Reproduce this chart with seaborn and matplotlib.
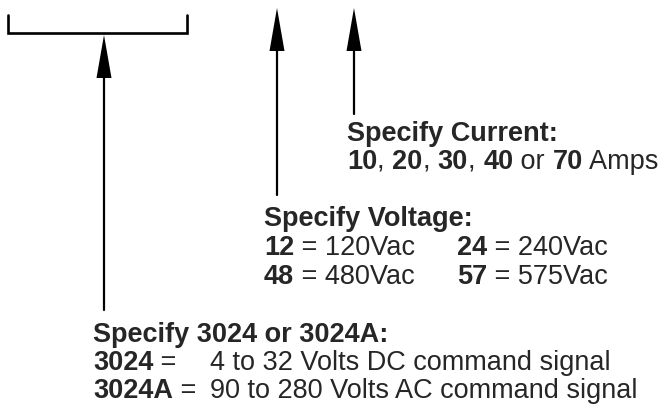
import matplotlib
matplotlib.use("Agg")
import matplotlib.pyplot as plt
import seaborn as sns

# ---- diagram content ----
current_lines = [
    [("Specify Current:", "bold")],
    [("10", "bold"), (", ", "normal"), ("20", "bold"), (", ", "normal"),
     ("30", "bold"), (", ", "normal"), ("40", "bold"), (" or ", "normal"),
     ("70", "bold"), (" Amps", "normal")],
]
voltage_title = "Specify Voltage:"
voltage_codes = ["12", "24", "48", "57"]
voltage_values = ["120Vac", "240Vac", "480Vac", "575Vac"]
model_title = "Specify 3024 or 3024A:"
model_codes = ["3024", "3024A"]
model_desc = ["4 to 32 Volts DC command signal", "90 to 280 Volts AC command signal"]

# arrow x, tip y, shaft bottom y (pixel space of the 672x409 drawing)
arrow_x = [104, 277, 354]
arrow_tip = [35, 8, 8]
arrow_base = [310, 195, 114]
bracket_x = [8, 187]
bracket_y = [15, 33]

FS = 19.5
FONT = "Liberation Sans"

sns.set_theme(style="white")
plt.rcParams["font.family"] = [FONT, "DejaVu Sans"]

fig = plt.figure(figsize=(6.72, 4.09), dpi=100)
ax = fig.add_axes([0, 0, 1, 1])
ax.set_xlim(0, 672)
ax.set_ylim(409, 0)
ax.axis("off")

fig.canvas.draw()
renderer = fig.canvas.get_renderer()


def runs(x, y, parts):
    # draw a row of mixed bold/normal text pieces one after another
    for txt, weight in parts:
        t = ax.text(x, y, txt, fontsize=FS, fontweight=weight, va="baseline", ha="left")
        bb = t.get_window_extent(renderer=renderer)
        x0, _ = ax.transData.inverted().transform((bb.x0, bb.y0))
        x1, _ = ax.transData.inverted().transform((bb.x1, bb.y0))
        x += x1 - x0
    return x


# bracket
ax.plot([bracket_x[0], bracket_x[0], bracket_x[1], bracket_x[1]],
        [bracket_y[0], bracket_y[1], bracket_y[1], bracket_y[0]],
        color="black", lw=1.9, solid_joinstyle="miter")

# arrows
head_w, head_l = 7.5, 43
for x, tip, base in zip(arrow_x, arrow_tip, arrow_base):
    ax.plot([x, x], [tip + head_l - 2, base], color="black", lw=1.6)
    ax.fill([x - head_w, x, x + head_w], [tip + head_l, tip, tip + head_l],
            color="black", lw=0)

# current block
runs(347, 141, current_lines[0])
runs(347, 169, current_lines[1])

# voltage block
ax.text(264, 226, voltage_title, fontsize=FS, fontweight="bold", va="baseline")
vx = [264, 457, 264, 457]
vy = [255, 255, 284, 284]
for code, val, x, y in zip(voltage_codes, voltage_values, vx, vy):
    runs(x, y, [(code, "bold"), (" = " + val, "normal")])

# model block
ax.text(93, 342, model_title, fontsize=FS, fontweight="bold", va="baseline")
for i, (code, desc) in enumerate(zip(model_codes, model_desc)):
    y = 370 + 28 * i
    runs(93, y, [(code, "bold"), (" =", "normal")])
    ax.text(210, y, desc, fontsize=FS, va="baseline")

fig.savefig("out.png", dpi=100, facecolor="white")
